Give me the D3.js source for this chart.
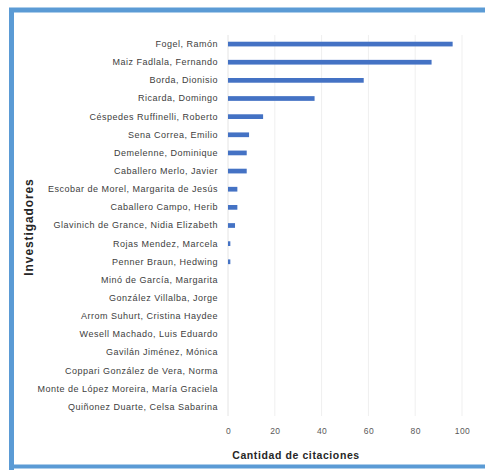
<!doctype html>
<html>
<head>
	<meta charset="UTF-8">
	<script src="https://d3js.org/d3.v7.min.js"></script>
	<style>
		body { margin: 0; background: #fff; }
		text { font-family: "Liberation Sans", Arial, sans-serif; }
	</style>
</head>
<body>
	<script>
		// investigadores, de arriba hacia abajo
		var investigadores = [
			"Fogel, Ramón",
			"Maiz Fadlala, Fernando",
			"Borda, Dionisio",
			"Ricarda, Domingo",
			"Céspedes Ruffinelli, Roberto",
			"Sena Correa, Emilio",
			"Demelenne, Dominique",
			"Caballero Merlo, Javier",
			"Escobar de Morel, Margarita de Jesús",
			"Caballero Campo, Herib",
			"Glavinich de Grance, Nidia Elizabeth",
			"Rojas Mendez, Marcela",
			"Penner Braun, Hedwing",
			"Minó de García, Margarita",
			"González Villalba, Jorge",
			"Arrom Suhurt, Cristina Haydee",
			"Wesell Machado, Luis Eduardo",
			"Gavilán Jiménez, Mónica",
			"Coppari González de Vera, Norma",
			"Monte de López Moreira, María Graciela",
			"Quiñonez Duarte, Celsa Sabarina"
		];
		var citaciones = [96, 87, 58, 37, 15, 9, 8, 8, 4, 4, 3, 1, 1, 0, 0, 0, 0, 0, 0, 0, 0];
		var ticksX = [0, 20, 40, 60, 80, 100];

		var W = 485, H = 470;
		var svg = d3.select("body").append("svg")
			.attr("width", W)
			.attr("height", H);

		var x = d3.scaleLinear().domain([0, 100]).range([228, 462]);
		var y = d3.scaleBand().domain(investigadores).range([35, 416]).paddingInner(0.74).paddingOuter(0.37);

		// gridlines
		svg.append("g").selectAll("line")
			.data(ticksX)
			.enter().append("line")
			.attr("x1", function(d) { return x(d); })
			.attr("x2", function(d) { return x(d); })
			.attr("y1", 35)
			.attr("y2", 416)
			.attr("stroke", function(d) { return d === 0 ? "#e4e4e4" : "#efefef"; })
			.attr("stroke-width", 1);

		// barras
		svg.append("g").selectAll("rect")
			.data(citaciones)
			.enter().append("rect")
			.attr("x", x(0))
			.attr("y", function(d, i) { return y(investigadores[i]); })
			.attr("width", function(d) { return x(d) - x(0); })
			.attr("height", y.bandwidth())
			.attr("fill", "#4472c4");

		// etiquetas eje y
		var yAxis = d3.axisLeft(y).tickSize(0).tickPadding(0);
		var gy = svg.append("g")
			.attr("transform", "translate(218,0)")
			.call(yAxis);
		gy.select(".domain").remove();
		gy.selectAll("text")
			.attr("font-size", 9)
			.attr("letter-spacing", 0.5)
			.attr("fill", "#404040")
			.style("font-family", "Liberation Sans, Arial, sans-serif");

		// etiquetas eje x
		var xAxis = d3.axisBottom(x).tickValues(ticksX).tickSize(0).tickPadding(0);
		var gx = svg.append("g")
			.attr("transform", "translate(0,428)")
			.call(xAxis);
		gx.select(".domain").remove();
		gx.selectAll("text")
			.attr("font-size", 8.5)
			.attr("letter-spacing", 0.4)
			.attr("fill", "#595959")
			.style("font-family", "Liberation Sans, Arial, sans-serif");

		// titulos
		svg.append("text")
			.attr("x", 296)
			.attr("y", 459)
			.attr("text-anchor", "middle")
			.attr("font-size", 10.5)
			.attr("letter-spacing", 0.6)
			.attr("font-weight", "bold")
			.attr("fill", "#262626")
			.text("Cantidad de citaciones");

		svg.append("text")
			.attr("transform", "translate(33,227) rotate(-90)")
			.attr("text-anchor", "middle")
			.attr("font-size", 12)
			.attr("letter-spacing", 0.9)
			.attr("font-weight", "bold")
			.attr("fill", "#262626")
			.text("Investigadores");

		// marco azul
		svg.append("path")
			.attr("d", "M11.5,470 L11.5,10 L490,10")
			.attr("fill", "none")
			.attr("stroke", "#5b9bd5")
			.attr("stroke-width", 5);
		svg.append("line")
			.attr("x1", 9).attr("x2", 490)
			.attr("y1", 466.5).attr("y2", 466.5)
			.attr("stroke", "#5b9bd5")
			.attr("stroke-width", 4);
	</script>
</body>
</html>
